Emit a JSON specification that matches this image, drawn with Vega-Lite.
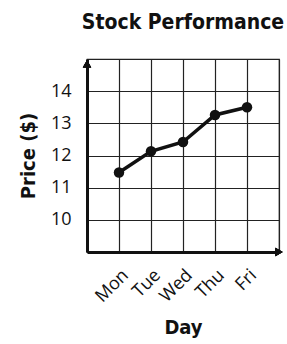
{
  "$schema": "https://vega.github.io/schema/vega-lite/v6.json",
  "autosize": {"type": "none"},
  "width": 192,
  "height": 193,
  "padding": {"left": 87, "top": 59, "right": 8, "bottom": 92},
  "background": "white",
  "config": {
    "view": {"stroke": "#222", "strokeWidth": 1.2},
    "font": "Open Sans"
  },
  "title": {
    "text": "Stock Performance",
    "font": "'DejaVu Sans Condensed', 'Liberation Sans Narrow', sans-serif",
    "fontWeight": "bold",
    "fontSize": 21,
    "color": "#111",
    "anchor": "middle",
    "offset": 26
  },
  "data": {
    "values": [
      {"day": "Mon", "price": 11.47},
      {"day": "Tue", "price": 12.13},
      {"day": "Wed", "price": 12.42},
      {"day": "Thu", "price": 13.26},
      {"day": "Fri", "price": 13.5}
    ]
  },
  "encoding": {
    "x": {
      "field": "day",
      "type": "ordinal",
      "sort": null,
      "scale": {"type": "point", "domain": ["", "Mon", "Tue", "Wed", "Thu", "Fri", " "], "padding": 0},
      "axis": {
        "title": "Day",
        "titleFont": "'DejaVu Sans Condensed', 'Liberation Sans Narrow', sans-serif",
        "titleFontWeight": "bold",
        "titleFontSize": 20,
        "titleColor": "#111",
        "titlePadding": 12,
        "labelAngle": -45,
        "labelAlign": "right",
        "labelBaseline": "top",
        "labelFontSize": 18,
        "labelColor": "#111",
        "labelPadding": 14,
        "labelDx": 6,
        "ticks": false,
        "grid": true,
        "gridColor": "#222",
        "gridWidth": 1.2,
        "domainColor": "#111",
        "domainWidth": 3
      }
    },
    "y": {
      "field": "price",
      "type": "quantitative",
      "scale": {"domain": [9, 15], "nice": false, "zero": false},
      "axis": {
        "title": "Price ($)",
        "titleFont": "'DejaVu Sans Condensed', 'Liberation Sans Narrow', sans-serif",
        "titleFontWeight": "bold",
        "titleFontSize": 20,
        "titleColor": "#111",
        "titlePadding": 12,
        "values": [10, 11, 12, 13, 14],
        "labelFontSize": 18,
        "labelColor": "#111",
        "labelPadding": 16,
        "ticks": false,
        "grid": true,
        "gridColor": "#222",
        "gridWidth": 1.2,
        "domainColor": "#111",
        "domainWidth": 3
      }
    }
  },
  "layer": [
    {"mark": {"type": "line", "color": "#111", "strokeWidth": 3.5}},
    {"mark": {"type": "point", "filled": true, "color": "#111", "size": 110, "opacity": 1}},
    {
      "mark": {"type": "point", "shape": "triangle-up", "filled": true, "color": "#111", "size": 70, "opacity": 1},
      "encoding": {"x": {"datum": ""}, "y": {"datum": 14.85}}
    },
    {
      "mark": {"type": "point", "shape": "triangle-right", "filled": true, "color": "#111", "size": 70, "opacity": 1},
      "encoding": {"x": {"datum": " "}, "y": {"datum": 9}}
    }
  ]
}
